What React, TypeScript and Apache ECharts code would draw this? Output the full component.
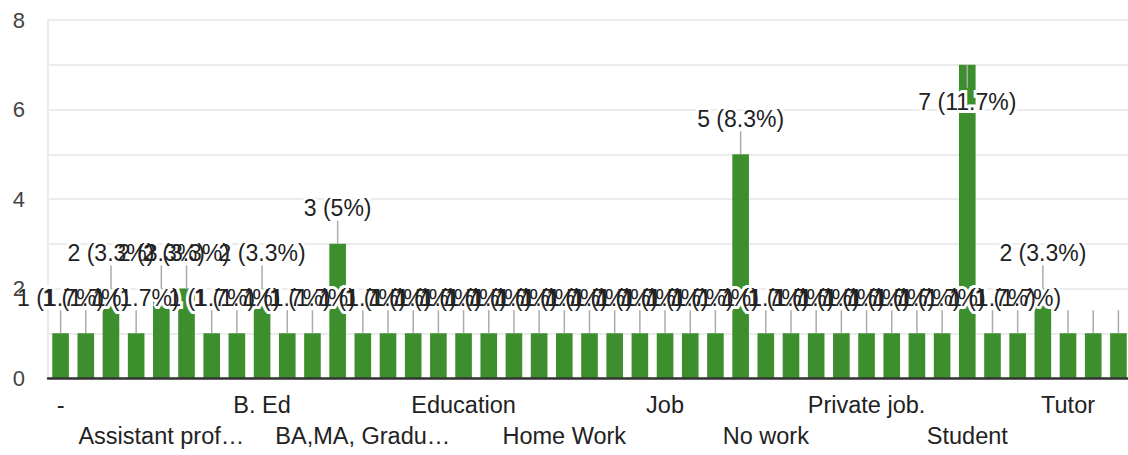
import React, { useEffect, useRef } from "react";
import * as echarts from "echarts";

const categories: string[] = [
  "-", "Accountant", "Assistant", "Assistant manager", "Assistant professor",
  "B. A", "B. A student", "B. Com", "B. Ed", "B. Sc", "B.Tech", "BA",
  "BA,MA, Graduation", "Business", "Clerk", "Doctor", "Education", "Engineer",
  "Farmer", "Government job", "Home Work", "Homemaker", "House wife", "Housewife",
  "Job", "Labour", "Lecturer", "No", "No work", "None", "Nothing", "Nurse",
  "Private job.", "Professor", "Self employed", "Service", "Student", "Studying",
  "Teacher", "Teaching", "Tutor", "Unemployed", "Working",
];

const counts: number[] = [
  1, 1, 2, 1, 2, 2, 1, 1, 2, 1, 1, 3, 1,
  1, 1, 1, 1, 1, 1, 1, 1, 1, 1, 1, 1, 1, 1, 5, 1,
  1, 1, 1, 1, 1, 1, 1, 7, 1, 1, 2, 1, 1, 1,
];

const yTicks: number[] = [0, 2, 4, 6, 8];

const FONT = 'Arial, "Liberation Sans", sans-serif';
const GREEN = "#3d8f2e";
const X_FONT_SIZE = 23.5;
const X_LABEL_MAX_W = 177;
const VAL_FONT_SIZE = 23;
const LABEL_RIGHT_LIMIT = 1105;

function makeMeasure(font: string) {
  const canvas = document.createElement("canvas");
  const ctx = canvas.getContext("2d");
  return (text: string) => {
    if (!ctx) return text.length * 12;
    ctx.font = font;
    return ctx.measureText(text).width;
  };
}

export default function App() {
  const ref = useRef<HTMLDivElement>(null);

  useEffect(() => {
    if (!ref.current) return;
    const chart = echarts.init(ref.current, undefined, { renderer: "svg" });
    const total = counts.reduce((a, b) => a + b, 0);
    const yMax = yTicks[yTicks.length - 1];
    const pct = (v: number) => Number(((v / total) * 100).toFixed(1));
    const labelText = (v: number) => `${v} (${pct(v)}%)`;
    const measureX = makeMeasure(`${X_FONT_SIZE}px ${FONT}`);
    const measureV = makeMeasure(`${VAL_FONT_SIZE}px ${FONT}`);
    const truncate = (text: string) => {
      if (measureX(text) <= X_LABEL_MAX_W) return text;
      let n = text.length;
      while (n > 0 && measureX(text.slice(0, n) + "…") > X_LABEL_MAX_W) n--;
      return text.slice(0, n).trimEnd() + "…";
    };

    const labelPos = (api: any) => {
      const v = api.value(1);
      const p = api.coord([api.value(0), v]);
      const down = v + 2 > yMax;
      const text = labelText(v);
      const w = measureV(text);
      const visible = p[0] + w / 2 <= LABEL_RIGHT_LIMIT;
      return { p, down, text, visible, cy: down ? p[1] + 37 : p[1] - 35.5 };
    };

    const textStyle = (text: string, halo: boolean) => ({
      text,
      fill: halo ? "#fff" : "#222",
      stroke: halo ? "#fff" : undefined,
      lineWidth: halo ? 6 : 0,
      fontSize: VAL_FONT_SIZE,
      fontFamily: FONT,
      align: "center",
      verticalAlign: "middle",
    });

    chart.setOption({
      animation: false,
      grid: { left: 48, right: 9, top: 20, bottom: 77, containLabel: false },
      xAxis: {
        type: "category",
        data: categories,
        axisLine: { show: true, lineStyle: { color: "#333", width: 2.5 } },
        axisTick: { show: false },
        splitLine: { show: false },
        z: 5,
        axisLabel: {
          interval: 3,
          showMinLabel: true,
          hideOverlap: false,
          margin: 11,
          color: "#222",
          fontFamily: FONT,
          fontSize: X_FONT_SIZE,
          lineHeight: 31,
          formatter: (value: string, index: number) => {
            const t = truncate(value);
            return Math.floor(index / 4) % 2 === 1 ? "\n" + t : t;
          },
        },
      },
      yAxis: [
        {
          type: "value",
          position: "left",
          min: 0,
          max: yMax,
          interval: 1,
          axisLine: { show: true, lineStyle: { color: "#ebebeb", width: 2 } },
          axisTick: { show: false },
          splitLine: { show: true, lineStyle: { color: "#ececec", width: 2 } },
          axisLabel: { show: false },
        },
        {
          type: "value",
          position: "left",
          offset: 0,
          min: 0,
          max: yMax,
          interval: 1,
          z: 10,
          axisLine: { show: false },
          axisTick: { show: false },
          splitLine: { show: false },
          axisLabel: {
            margin: 23,
            color: "#444",
            fontFamily: FONT,
            fontSize: 22,
            formatter: (v: number) => (yTicks.includes(v) ? String(v) : ""),
          },
        },
      ],
      series: [
        {
          type: "bar",
          barWidth: "66%",
          itemStyle: { color: GREEN },
          z: 2,
          yAxisIndex: 0,
          data: counts,
        },
        {
          type: "custom",
          z: 3,
          yAxisIndex: 0,
          silent: true,
          clip: false,
          data: counts.map((v, i) => [i, v]),
          renderItem: (params: any, api: any) => {
            const L = labelPos(api);
            const children: any[] = [
              {
                type: "line",
                shape: {
                  x1: L.p[0],
                  y1: L.p[1],
                  x2: L.p[0],
                  y2: L.down ? L.p[1] + 23 : L.p[1] - 23,
                },
                style: { stroke: "#aaaaaa", lineWidth: 1.5 },
              },
            ];
            if (L.visible) {
              children.push({
                type: "text",
                x: L.p[0],
                y: L.cy,
                style: textStyle(L.text, true),
              });
            }
            return { type: "group", children };
          },
        },
        {
          type: "custom",
          z: 4,
          yAxisIndex: 0,
          silent: true,
          clip: false,
          data: counts.map((v, i) => [i, v]),
          renderItem: (params: any, api: any) => {
            const L = labelPos(api);
            if (!L.visible) return { type: "group", children: [] };
            return {
              type: "text",
              x: L.p[0],
              y: L.cy,
              style: textStyle(L.text, false),
            };
          },
        },
      ],
    });

    return () => chart.dispose();
  }, []);

  return (
    <div
      ref={ref}
      style={{
        position: "fixed",
        left: 0,
        top: 0,
        width: 1140,
        height: 455,
        background: "#fff",
      }}
    />
  );
}
